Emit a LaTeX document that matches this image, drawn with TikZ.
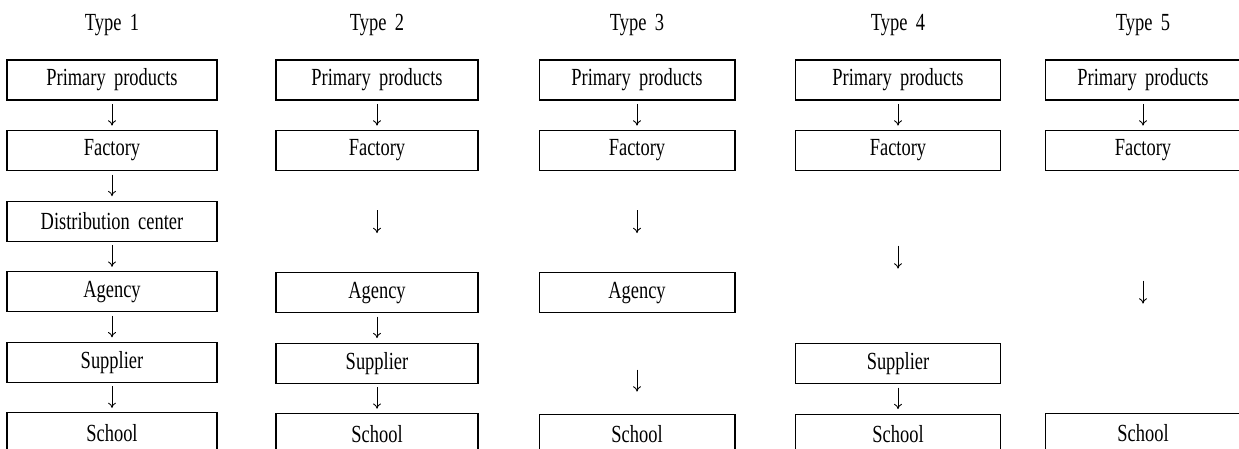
\documentclass[tikz,border=0pt]{standalone}
\usepackage{fontspec}
\setmainfont{Liberation Serif}[FakeStretch=0.75,WordSpace=1.8]
\usetikzlibrary{positioning,arrows.meta}

\tikzset{
  box/.style={draw, rectangle, line width=0.6pt, minimum height=0.8cm, inner sep=0pt, outer sep=0pt, font=\fontsize{14}{16}\selectfont},
  head/.style={anchor=base, inner sep=0pt, font=\fontsize{14}{16}\selectfont},
  flow/.style={-{To[length=3pt,width=4.5pt]}, line width=0.5pt, shorten <=0.08cm, shorten >=0.1cm},
}

\begin{document}
\begin{tikzpicture}[x=0.02cm, y=-0.02cm, node distance=0.612cm]
\path[use as bounding box] (0,0) rectangle (1239,449);

% Type 1
\node[head] (t1) at (112,31) {Type 1};
\node[box, minimum width=4.2cm] (pp1) at (112,80) {Primary products};
\node[box, minimum width=4.2cm, below=of pp1] (fa1) {Factory};
\node[box, minimum width=4.2cm, below=of fa1] (dc1) {Distribution center};
\node[box, minimum width=4.2cm, below=of dc1] (ag1) {Agency};
\node[box, minimum width=4.2cm, below=of ag1] (su1) {Supplier};
\node[box, minimum width=4.2cm, below=of su1] (sc1) {School};
\draw[flow] (pp1) -- (fa1);
\draw[flow] (fa1) -- (dc1);
\draw[flow] (dc1) -- (ag1);
\draw[flow] (ag1) -- (su1);
\draw[flow] (su1) -- (sc1);

% Type 2
\node[head] (t2) at (377,31) {Type 2};
\node[box, minimum width=4.04cm] (pp2) at (377,80) {Primary products};
\node[box, minimum width=4.04cm, below=of pp2] (fa2) {Factory};
\node[box, minimum width=4.04cm, below=2.04cm of fa2] (ag2) {Agency};
\node[box, minimum width=4.04cm, below=of ag2] (su2) {Supplier};
\node[box, minimum width=4.04cm, below=of su2] (sc2) {School};
\draw[flow] (pp2) -- (fa2);
\draw[flow, shorten <=0.79cm, shorten >=0.79cm] (fa2) -- (ag2);
\draw[flow] (ag2) -- (su2);
\draw[flow] (su2) -- (sc2);

% Type 3
\node[head] (t3) at (637,31) {Type 3};
\node[box, minimum width=3.92cm] (pp3) at (637,80) {Primary products};
\node[box, minimum width=3.92cm, below=of pp3] (fa3) {Factory};
\node[box, minimum width=3.92cm, below=2.04cm of fa3] (ag3) {Agency};
\node[box, minimum width=3.92cm, below=2.04cm of ag3] (sc3) {School};
\draw[flow] (pp3) -- (fa3);
\draw[flow, shorten <=0.79cm, shorten >=0.79cm] (fa3) -- (ag3);
\draw[flow, shorten <=1.14cm, shorten >=0.46cm] (ag3) -- (sc3);

% Type 4
\node[head] (t4) at (898,31) {Type 4};
\node[box, minimum width=4.1cm] (pp4) at (898,80) {Primary products};
\node[box, minimum width=4.1cm, below=of pp4] (fa4) {Factory};
\node[box, minimum width=4.1cm, below=3.46cm of fa4] (su4) {Supplier};
\node[box, minimum width=4.1cm, below=of su4] (sc4) {School};
\draw[flow] (pp4) -- (fa4);
\draw[flow, shorten <=1.5cm, shorten >=1.5cm] (fa4) -- (su4);
\draw[flow] (su4) -- (sc4);

% Type 5
\node[head] (t5) at (1143,31) {Type 5};
\node[box, minimum width=3.92cm] (pp5) at (1143,80) {Primary products};
\node[box, minimum width=3.92cm, below=of pp5] (fa5) {Factory};
\node[box, minimum width=3.92cm, below=4.86cm of fa5] (sc5) {School};
\draw[flow] (pp5) -- (fa5);
\draw[flow, shorten <=2.2cm, shorten >=2.2cm] (fa5) -- (sc5);

\end{tikzpicture}
\end{document}
